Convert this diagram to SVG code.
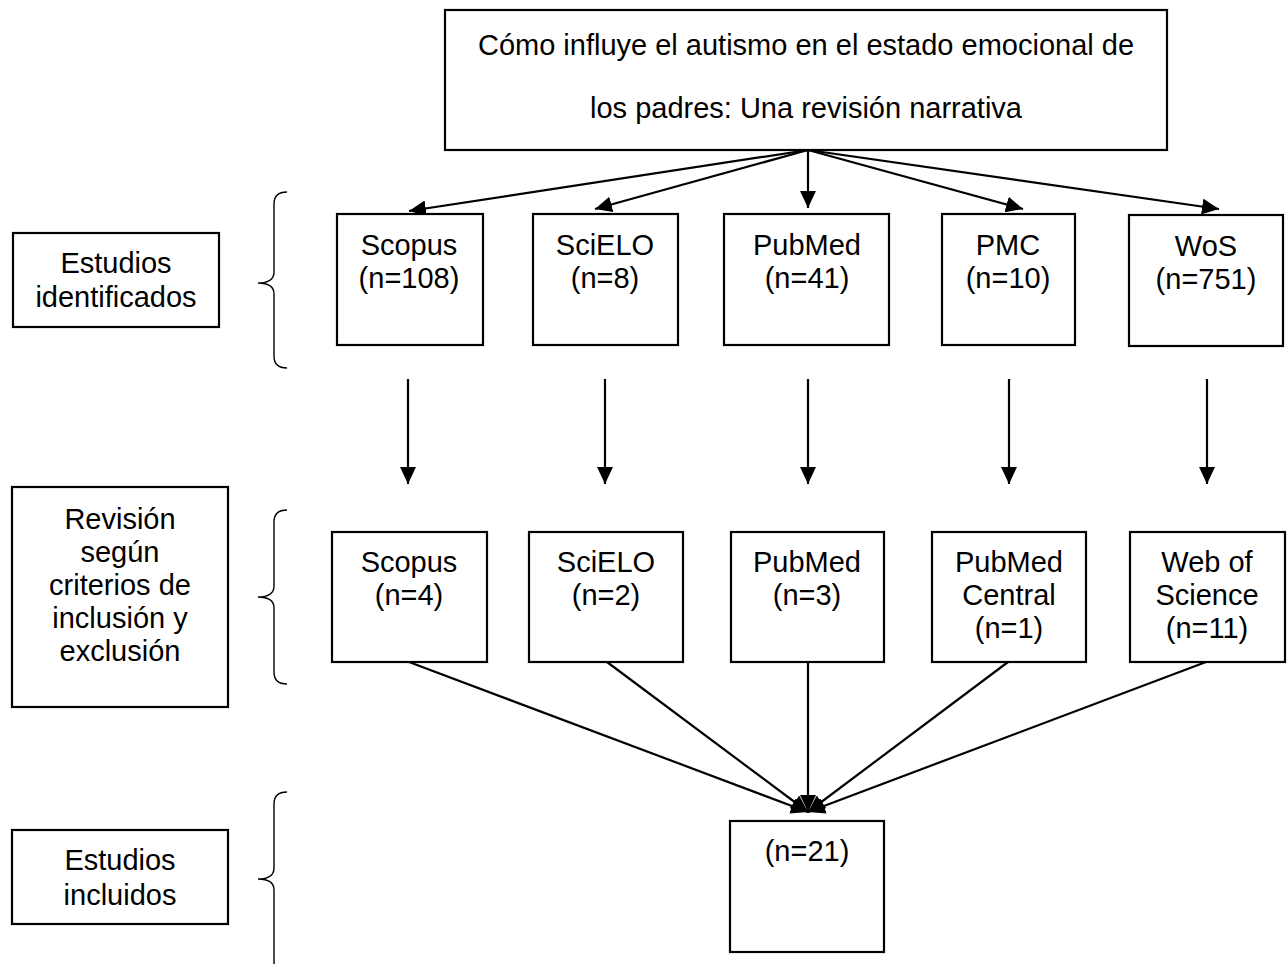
<svg xmlns="http://www.w3.org/2000/svg" width="1287" height="964" viewBox="0 0 1287 964">
<style>
.box{fill:#fff;stroke:#000;stroke-width:2.2}
.t{font-family:"Liberation Sans",Arial,sans-serif;font-size:29px;fill:#000;text-anchor:middle}
.c{fill:none;stroke:#000;stroke-width:2.2}
.br{fill:none;stroke:#000;stroke-width:1.4}
</style>
<defs>
<marker id="ah" markerUnits="userSpaceOnUse" markerWidth="17" markerHeight="16" refX="17" refY="8" orient="auto">
<path d="M0,0 L17,8 L0,16 z" fill="#000"/>
</marker>
</defs>
<rect width="1287" height="964" fill="#fff"/>

<g id="connectors">
<line class="c" x1="808" y1="150" x2="409" y2="211" marker-end="url(#ah)"/>
<line class="c" x1="808" y1="150" x2="595" y2="209" marker-end="url(#ah)"/>
<line class="c" x1="808" y1="150" x2="808" y2="208" marker-end="url(#ah)"/>
<line class="c" x1="808" y1="150" x2="1023" y2="209" marker-end="url(#ah)"/>
<line class="c" x1="808" y1="150" x2="1219" y2="209" marker-end="url(#ah)"/>
<line class="c" x1="408" y1="379" x2="408" y2="484" marker-end="url(#ah)"/>
<line class="c" x1="605" y1="379" x2="605" y2="484" marker-end="url(#ah)"/>
<line class="c" x1="808" y1="379" x2="808" y2="484" marker-end="url(#ah)"/>
<line class="c" x1="1009" y1="379" x2="1009" y2="484" marker-end="url(#ah)"/>
<line class="c" x1="1207" y1="379" x2="1207" y2="484" marker-end="url(#ah)"/>
<line class="c" x1="409" y1="662" x2="808" y2="812" marker-end="url(#ah)"/>
<line class="c" x1="607" y1="662" x2="808" y2="812" marker-end="url(#ah)"/>
<line class="c" x1="808" y1="662" x2="808" y2="812" marker-end="url(#ah)"/>
<line class="c" x1="1008" y1="662" x2="808" y2="812" marker-end="url(#ah)"/>
<line class="c" x1="1206" y1="662" x2="808" y2="812" marker-end="url(#ah)"/>
</g>

<g id="braces">
<path class="br" d="M287,192 Q274,192 274,204 L274,272 Q274,283 258,283 Q274,283 274,294 L274,356 Q274,368 287,368"/>
<path class="br" d="M287,510 Q274,510 274,522 L274,586 Q274,597 258,597 Q274,597 274,608 L274,672 Q274,684 287,684"/>
<path class="br" d="M287,792 Q274,792 274,804 L274,868 Q274,879 258,879 Q274,879 274,890 L274,970"/>
</g>

<g id="title">
<rect class="box" x="445" y="10" width="722" height="140"/>
<text class="t" x="806" y="55">Cómo influye el autismo en el estado emocional de</text>
<text class="t" x="806" y="118">los padres: Una revisión narrativa</text>
</g>

<g id="lbl-identificados">
<rect class="box" x="13" y="233" width="206" height="94"/>
<text class="t" x="116" y="273">Estudios</text>
<text class="t" x="116" y="307">identificados</text>
</g>
<g id="lbl-revision">
<rect class="box" x="12" y="487" width="216" height="220"/>
<text class="t" x="120" y="529">Revisión</text>
<text class="t" x="120" y="562">según</text>
<text class="t" x="120" y="595">criterios de</text>
<text class="t" x="120" y="628">inclusión y</text>
<text class="t" x="120" y="661">exclusión</text>
</g>
<g id="lbl-incluidos">
<rect class="box" x="12" y="830" width="216" height="94"/>
<text class="t" x="120" y="870">Estudios</text>
<text class="t" x="120" y="905">incluidos</text>
</g>

<g id="id-scopus">
<rect class="box" x="337" y="214" width="146" height="131"/>
<text class="t" x="409" y="255">Scopus</text>
<text class="t" x="409" y="288">(n=108)</text>
</g>
<g id="id-scielo">
<rect class="box" x="533" y="214" width="145" height="131"/>
<text class="t" x="605" y="255">SciELO</text>
<text class="t" x="605" y="288">(n=8)</text>
</g>
<g id="id-pubmed">
<rect class="box" x="724" y="214" width="165" height="131"/>
<text class="t" x="807" y="255">PubMed</text>
<text class="t" x="807" y="288">(n=41)</text>
</g>
<g id="id-pmc">
<rect class="box" x="942" y="214" width="133" height="131"/>
<text class="t" x="1008" y="255">PMC</text>
<text class="t" x="1008" y="288">(n=10)</text>
</g>
<g id="id-wos">
<rect class="box" x="1129" y="215" width="154" height="131"/>
<text class="t" x="1206" y="256">WoS</text>
<text class="t" x="1206" y="289">(n=751)</text>
</g>

<g id="rev-scopus">
<rect class="box" x="332" y="532" width="155" height="130"/>
<text class="t" x="409" y="572">Scopus</text>
<text class="t" x="409" y="605">(n=4)</text>
</g>
<g id="rev-scielo">
<rect class="box" x="529" y="532" width="154" height="130"/>
<text class="t" x="606" y="572">SciELO</text>
<text class="t" x="606" y="605">(n=2)</text>
</g>
<g id="rev-pubmed">
<rect class="box" x="731" y="532" width="153" height="130"/>
<text class="t" x="807" y="572">PubMed</text>
<text class="t" x="807" y="605">(n=3)</text>
</g>
<g id="rev-pmc">
<rect class="box" x="932" y="532" width="154" height="130"/>
<text class="t" x="1009" y="572">PubMed</text>
<text class="t" x="1009" y="605">Central</text>
<text class="t" x="1009" y="638">(n=1)</text>
</g>
<g id="rev-wos">
<rect class="box" x="1130" y="532" width="155" height="130"/>
<text class="t" x="1207" y="572">Web of</text>
<text class="t" x="1207" y="605">Science</text>
<text class="t" x="1207" y="638">(n=11)</text>
</g>

<g id="included">
<rect class="box" x="730" y="821" width="154" height="131"/>
<text class="t" x="807" y="861">(n=21)</text>
</g>
</svg>
